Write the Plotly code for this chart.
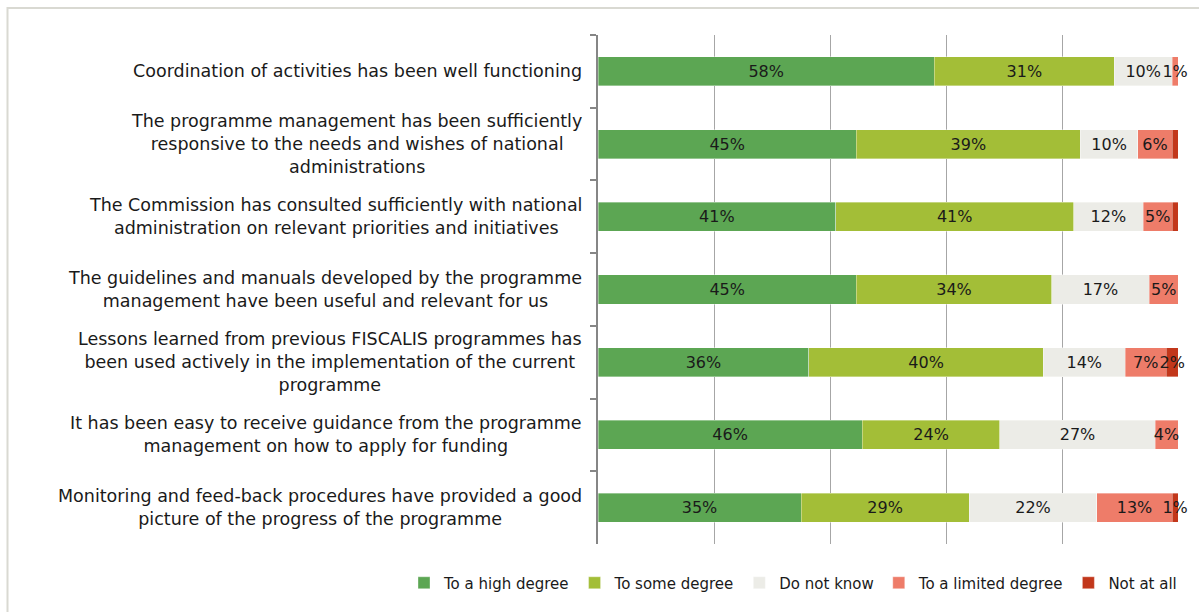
import plotly.graph_objects as go

# Survey statements (top to bottom)
statements = [
    "Coordination of activities has been well functioning",
    "The programme management has been sufficiently<br>responsive to the needs and wishes of national<br>administrations",
    "The Commission has consulted sufficiently with national<br>administration on relevant priorities and initiatives",
    "The guidelines and manuals developed by the programme<br>management have been useful and relevant for us",
    "Lessons learned from previous FISCALIS programmes has<br>been used actively in the implementation of the current<br>programme",
    "It has been easy to receive guidance from the programme<br>management on how to apply for funding",
    "Monitoring and feed-back procedures have provided a good<br>picture of the progress of the programme",
]

# Answer shares in percent
high_degree = [58, 45, 41, 45, 36, 46, 35]
some_degree = [31, 39, 41, 34, 40, 24, 29]
do_not_know = [10, 10, 12, 17, 14, 27, 22]
limited_degree = [1, 6, 5, 5, 7, 4, 13]
not_at_all = [0, 1, 1, 0, 2, 0, 1]

series_names = ["To a high degree", "To some degree", "Do not know",
                "To a limited degree", "Not at all"]
series_values = [high_degree, some_degree, do_not_know, limited_degree, not_at_all]
series_colors = ["#5CA653", "#A3BE37", "#ECECE7", "#EE7C69", "#C2371B"]

# slivers too thin to carry a readable label
unlabelled = {(4, 1), (4, 2)}

FONT = "DejaVu Sans"
W, H = 1199, 612
L, R, T, B = 598, 21, 35, 57
pw, ph = W - L - R, H - T - B


def px_x(px):
    return (px - L) / pw


def px_y(py):
    return (H - B - py) / ph


fig = go.Figure()
for si, (name, vals, col) in enumerate(zip(series_names, series_values, series_colors)):
    labels = []
    for ci, v in enumerate(vals):
        if v == 0 or (si, ci) in unlabelled:
            labels.append("")
        else:
            labels.append(f"{v}%")
    fig.add_trace(go.Bar(
        name=name,
        y=statements,
        x=vals,
        orientation="h",
        marker=dict(color=col, line=dict(color="rgba(255,255,255,0.6)", width=0.6)),
        text=labels,
        textposition="inside",
        insidetextanchor="middle",
        textangle=0,
        textfont=dict(family=FONT, size=16, color="#1a1a1a"),
        cliponaxis=False,
        width=0.4,
        hoverinfo="skip",
    ))

# statement labels, centred line by line, right edge just left of the axis
for s in statements:
    fig.add_annotation(
        x=px_x(584), xref="paper", xanchor="right",
        y=s, yref="y", yanchor="middle",
        text=s, showarrow=False, align="center",
        font=dict(family=FONT, size=17.5, color="#1a1a1a"),
    )

# light frame around the chart
fig.add_shape(
    type="rect", xref="paper", yref="paper",
    x0=px_x(7.5), x1=px_x(1210), y0=px_y(7.5), y1=px_y(630),
    line=dict(color="#D9D9D2", width=2), fillcolor="rgba(0,0,0,0)", layer="below",
)

fig.update_layout(
    width=W, height=H,
    margin=dict(l=L, r=R, t=T, b=B),
    paper_bgcolor="white", plot_bgcolor="white",
    barmode="stack", barnorm="percent",
    uniformtext=dict(minsize=16, mode="show"),
    font=dict(family=FONT, color="#1a1a1a"),
    showlegend=True,
    legend=dict(
        orientation="h", x=px_x(404), xanchor="left", y=px_y(578), yanchor="top",
        font=dict(family=FONT, size=15, color="#1a1a1a"),
        itemwidth=30, traceorder="normal", tracegroupgap=0,
    ),
    xaxis=dict(
        range=[0, 100], showticklabels=False, ticks="",
        showgrid=True, gridcolor="#A6A6A6", gridwidth=1,
        dtick=20, zeroline=False, showline=False, fixedrange=True,
    ),
    yaxis=dict(
        autorange="reversed", showticklabels=False,
        ticks="outside", ticklen=6, tickcolor="#868686", tickwidth=1.5,
        tickson="boundaries", showline=True, linecolor="#868686", linewidth=2,
        showgrid=False, fixedrange=True,
    ),
)

fig.write_html("out.html")
